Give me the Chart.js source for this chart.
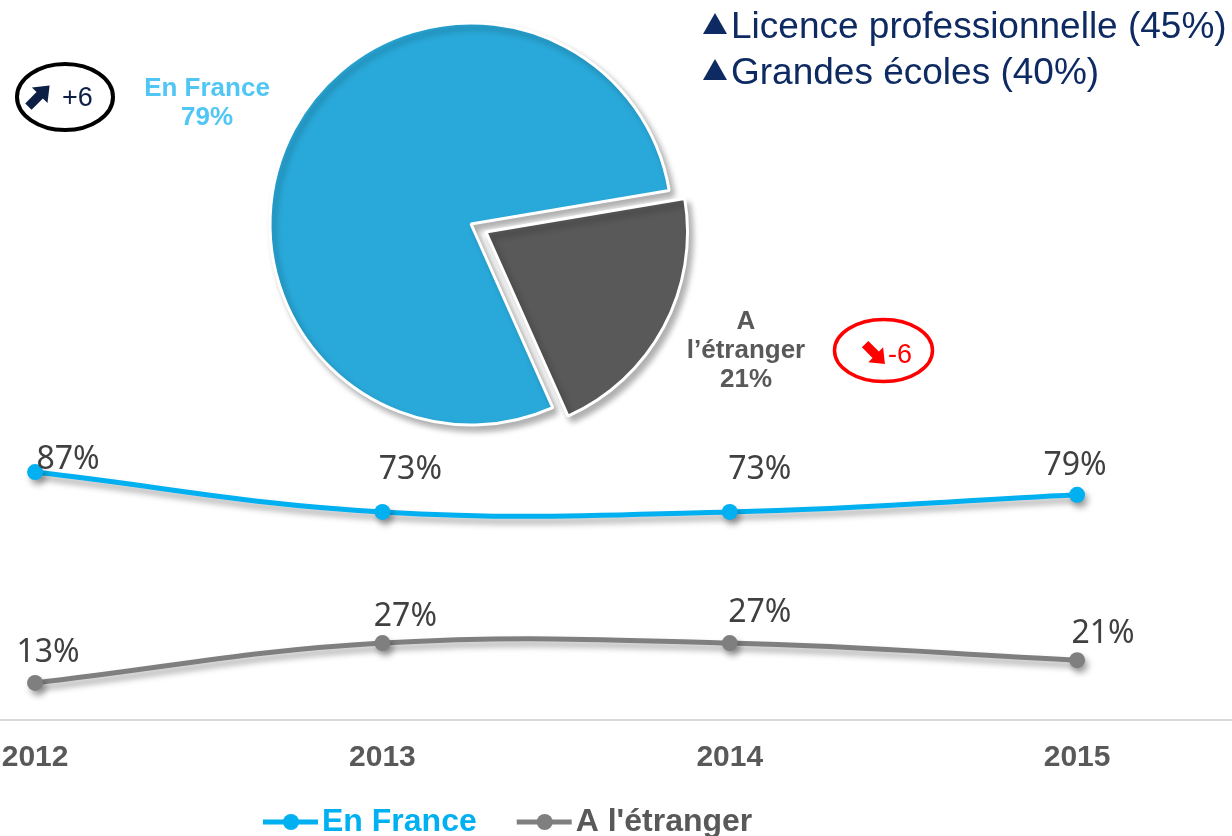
<!DOCTYPE html>
<html>
<head>
<meta charset="utf-8">
<script src="https://cdn.jsdelivr.net/npm/chart.js@4.4.1/dist/chart.umd.min.js"></script>
<style>
html, body { margin: 0; padding: 0; background: #fff; }
body { width: 1232px; height: 836px; position: relative; overflow: hidden; font-family: "Liberation Sans", Arial, sans-serif; }
#line-chart { position: absolute; left: 0; top: 400px; }
#pie-chart { position: absolute; left: 0; top: -16px; }
#marks { position: absolute; left: 0; top: 0; }
.note { position: absolute; white-space: nowrap; }
.navy { color: #0E2A62; }
</style>
</head>
<body>
<canvas id="line-chart" width="1232" height="436"></canvas>
<canvas id="pie-chart" width="942" height="480"></canvas>

<svg id="marks" width="1232" height="836">
    <!-- triangles of the top right list -->
    <polygon points="703,34 727,34 715,13" fill="#0E2A62"/>
    <polygon points="703,80 727,80 715,59" fill="#0E2A62"/>
    <!-- +6 badge -->
    <ellipse cx="65" cy="97" rx="48" ry="33" fill="none" stroke="#000" stroke-width="4"/>
    <g transform="translate(39,96) rotate(-45)">
        <polygon points="-15,-4.5 1,-4.5 1,-11 15,0 1,11 1,4.5 -15,4.5" fill="#0E1F45"/>
    </g>
    <!-- -6 badge -->
    <ellipse cx="883.5" cy="350.5" rx="49" ry="31" fill="none" stroke="#FF0000" stroke-width="3.5"/>
    <g transform="translate(875,354) rotate(45)">
        <polygon points="-14,-4.5 1,-4.5 1,-10.5 14,0 1,10.5 1,4.5 -14,4.5" fill="#FF0000"/>
    </g>
</svg>

<div class="note navy" style="left:731px; top:3px; font-size:37px; line-height:46px;">Licence professionnelle (45%)</div>
<div class="note navy" style="left:731px; top:49px; font-size:37px; line-height:46px;">Grandes écoles (40%)</div>
<div class="note" style="left:62px; top:82px; font-size:27px; line-height:30px; color:#0E1F45;">+6</div>
<div class="note" style="left:888px; top:339px; font-size:27px; line-height:30px; color:#FF0000;">-6</div>

<script>
// Data
const years = ['2012', '2013', '2014', '2015'];
const franceShare = [87, 73, 73, 79];
const abroadShare = [13, 27, 27, 21];

const pieLabels = ['En France', 'A l’étranger'];
const pieValues = [79, 21];

// soft drop shadow under the marks
const shadowPlugin = {
    id: 'shadow',
    beforeDatasetsDraw(chart, args, opts) {
        const c = chart.ctx;
        c.save();
        c.shadowColor = opts.color;
        c.shadowBlur = opts.blur;
        c.shadowOffsetX = opts.x;
        c.shadowOffsetY = opts.y;
    },
    afterDatasetsDraw(chart) {
        chart.ctx.restore();
    }
};

// value labels next to each point
const pointLabels = {
    id: 'pointLabels',
    afterDatasetsDraw(chart, args, opts) {
        const c = chart.ctx;
        c.save();
        c.font = '32px "Noto Sans", "DejaVu Sans", sans-serif';
        c.fillStyle = '#404040';
        c.textAlign = 'center';
        c.textBaseline = 'middle';
        chart.data.datasets.forEach((ds, i) => {
            chart.getDatasetMeta(i).data.forEach((pt, j) => {
                const off = opts.offsets[i][j];
                c.fillText(ds.data[j].y + '%', pt.x + off[0], pt.y + off[1]);
            });
        });
        c.restore();
    }
};

// legend drawn under the axis, line + dot then label
const bottomLegend = {
    id: 'bottomLegend',
    afterDraw(chart, args, opts) {
        const c = chart.ctx;
        c.save();
        c.font = 'bold 32px "Liberation Sans", Arial, sans-serif';
        c.textBaseline = 'middle';
        let x = opts.x;
        const y = opts.y;
        chart.data.datasets.forEach((ds, i) => {
            c.strokeStyle = ds.borderColor;
            c.lineWidth = 5;
            c.beginPath();
            c.moveTo(x, y);
            c.lineTo(x + 55, y);
            c.stroke();
            c.fillStyle = ds.borderColor;
            c.beginPath();
            c.arc(x + 28, y, 8, 0, Math.PI * 2);
            c.fill();
            c.fillStyle = opts.textColors[i];
            c.fillText(ds.label, x + 59, y);
            x += 59 + c.measureText(ds.label).width + 40;
        });
        c.restore();
    }
};

let lineCtx = document.querySelector('#line-chart').getContext('2d');

let lineChart = new Chart(lineCtx, {
    type: 'line',
    data: {
        datasets: [{
            label: 'En France',
            data: years.map((y, i) => ({x: Number(y), y: franceShare[i]})),
            borderColor: '#00B0F0',
            backgroundColor: '#00B0F0',
            borderWidth: 5,
            pointRadius: 8,
            pointBorderWidth: 0,
            tension: 0.4
        }, {
            label: "A l'étranger",
            data: years.map((y, i) => ({x: Number(y), y: abroadShare[i]})),
            borderColor: '#7F7F7F',
            backgroundColor: '#7F7F7F',
            borderWidth: 5,
            pointRadius: 8,
            pointBorderWidth: 0,
            tension: 0.4
        }]
    },
    options: {
        responsive: false,
        animation: false,
        devicePixelRatio: 1,
        events: [],
        layout: {autoPadding: false, padding: {top: 35, left: 0, right: 0, bottom: 0}},
        scales: {
            x: {
                type: 'linear',
                min: 2011.899,
                max: 2015.446,
                grid: {display: true, drawOnChartArea: false, drawTicks: false},
                border: {display: true, color: '#D9D9D9', width: 2},
                ticks: {
                    stepSize: 1,
                    includeBounds: false,
                    autoSkip: false,
                    maxRotation: 0,
                    padding: 20,
                    color: '#595959',
                    font: {family: '"Liberation Sans", Arial, sans-serif', size: 30, weight: 'bold'},
                    callback: (v) => Number.isInteger(v) ? String(v) : ''
                },
                afterFit: (scale) => {
                    scale.height = 116;
                    scale.paddingLeft = 0;
                    scale.paddingRight = 0;
                }
            },
            y: {
                display: false,
                min: 0,
                max: 100
            }
        },
        plugins: {
            legend: {display: false},
            tooltip: {enabled: false},
            shadow: {color: 'rgba(0,0,0,0.35)', blur: 6, x: 3, y: 5},
            pointLabels: {
                offsets: [
                    [[33, -12], [28, -42], [30, -42], [-2, -29]],
                    [[13, -30], [23, -26], [30, -30], [26, -26]]
                ]
            },
            bottomLegend: {x: 263, y: 422, textColors: ['#00B0F0', '#595959']}
        }
    },
    plugins: [shadowPlugin, pointLabels, bottomLegend]
});

// Pie
const pieText = {
    id: 'pieText',
    afterDatasetsDraw(chart, args, opts) {
        const c = chart.ctx;
        const arc = chart.getDatasetMeta(0).data[0];
        c.save();
        c.font = 'bold 26px "Liberation Sans", Arial, sans-serif';
        c.textAlign = 'center';
        c.textBaseline = 'middle';
        chart.data.labels.forEach((lab, i) => {
            const lines = opts.wrap[i] ? lab.split(' ') : [lab];
            lines.push(chart.data.datasets[0].data[i] + '%');
            const cx = arc.x + opts.pos[i][0];
            const cy = arc.y + opts.pos[i][1] - (lines.length - 1) * opts.lineHeight / 2;
            c.fillStyle = opts.colors[i];
            lines.forEach((t, k) => c.fillText(t, cx, cy + k * opts.lineHeight));
        });
        c.restore();
    }
};

let pieCtx = document.querySelector('#pie-chart').getContext('2d');

let pieChart = new Chart(pieCtx, {
    type: 'pie',
    data: {
        labels: pieLabels,
        datasets: [{
            data: pieValues,
            backgroundColor: ['#29A9DA', '#595959'],
            borderColor: '#ffffff',
            borderWidth: 3,
            offset: [0, 68]
        }]
    },
    options: {
        responsive: false,
        animation: false,
        devicePixelRatio: 1,
        events: [],
        rotation: 156,
        radius: 201,
        layout: {padding: 0},
        plugins: {
            legend: {display: false},
            tooltip: {enabled: false},
            shadow: {color: 'rgba(0,0,0,0.3)', blur: 6, x: 4, y: 5},
            pieText: {
                pos: [[-264, -121], [275, 127]],
                wrap: [false, true],
                lineHeight: 29,
                colors: ['#4FC6F4', '#595959']
            }
        }
    },
    plugins: [shadowPlugin, pieText]
});
</script>
</body>
</html>
